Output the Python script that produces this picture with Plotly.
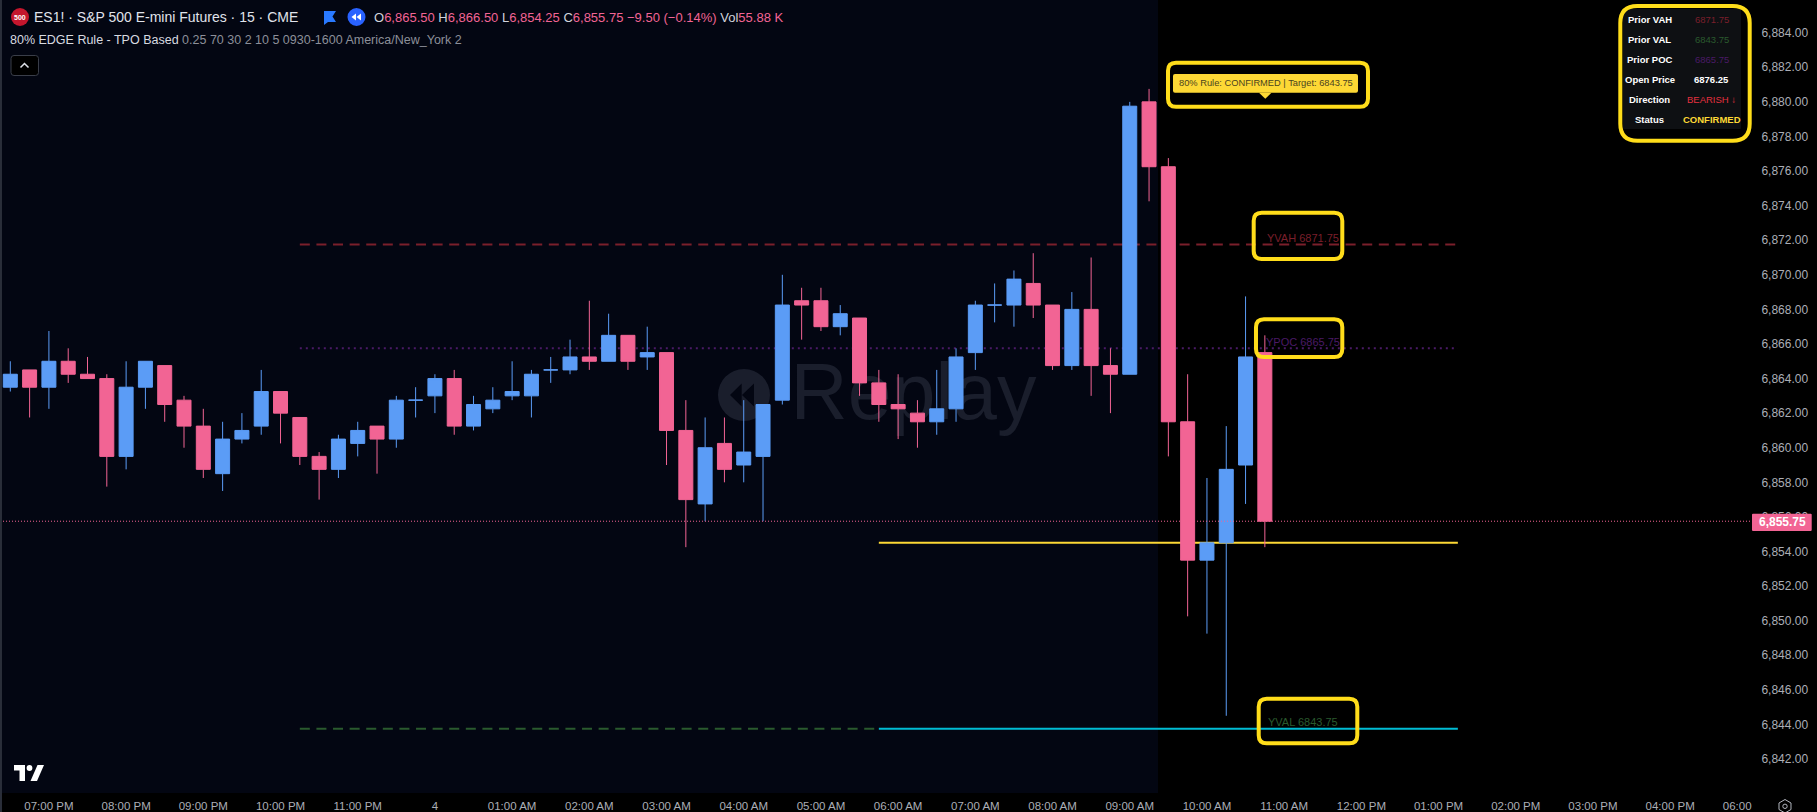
import plotly.graph_objects as go

# ---------- data ----------
bar_index = list(range(66))
opens = [6863.5,6864.5,6863.5,6865,6864.25,6864,6859.5,6863.5,6864.75,6862.75,6861.25,6858.5,6860.5,6861.25,6863.25,6861.75,6859.5,6858.75,6860.25,6861.25,6860.5,6862.75,6863,6864,6861.25,6862.25,6863,6863,6864.5,6864.5,6865.25,6865,6866.5,6865.25,6865.5,6861,6856.75,6860.25,6859,6859.5,6862.75,6868.5,6868.5,6867,6867.5,6863.75,6862.5,6862,6861.5,6862.25,6865.5,6868.25,6868.25,6869.5,6868.25,6864.75,6868,6864.75,6864.25,6880,6876.25,6861.5,6853.5,6854.5,6859,6865.5]
highs = [6865,6864.5,6866.75,6865.75,6865.25,6864.25,6865,6865,6864.75,6863,6862.25,6861.5,6862,6864.5,6863.25,6861.75,6859.75,6860.75,6861.5,6861.25,6863,6863.5,6864.25,6864.5,6863,6863.5,6865,6864.5,6865.25,6866.25,6868.5,6867.75,6866.5,6867,6865.5,6862.75,6861.75,6861.75,6862.75,6862.5,6870,6869.25,6869.25,6868.25,6867.5,6864.5,6864.25,6862.75,6864.5,6865.75,6868.5,6869.5,6870.25,6871.25,6868.25,6869,6871,6865.75,6880,6880.75,6876.75,6864.25,6858.25,6861.25,6868.75,6866.5]
lows = [6863.25,6861.75,6862.25,6863.75,6864,6857.75,6858.75,6862.25,6861.5,6860,6858.25,6857.5,6860.25,6860.75,6860.25,6859,6857,6858.25,6859.5,6858.5,6860,6861.75,6862,6860.75,6861,6862,6862.75,6861.75,6863.75,6864.25,6864.5,6865,6864.5,6864.5,6859,6854.25,6855.75,6858,6858,6855.75,6862.5,6866.25,6866.75,6866.5,6863,6861.5,6860.5,6860,6860.75,6861.5,6864.5,6867.25,6867,6867.5,6864.5,6864.5,6863,6862,6864.25,6874.25,6859.5,6850.25,6849.25,6844.5,6856.75,6854.25]
closes = [6864.25,6863.5,6865,6864.25,6864,6859.5,6863.5,6865,6862.5,6861.25,6858.75,6860.5,6861,6863.25,6862,6859.5,6858.75,6860.5,6861,6860.5,6862.75,6862.75,6864,6861.25,6862.5,6862.75,6863.25,6864.25,6864.5,6865.25,6865,6866.5,6865,6865.5,6861,6857,6860,6858.75,6859.75,6862.5,6868.25,6868.25,6867,6867.75,6863.75,6862.5,6862.25,6861.5,6862.25,6865.25,6868.25,6868.25,6869.75,6868.25,6864.75,6868,6864.75,6864.25,6879.75,6876.25,6861.5,6853.5,6854.5,6858.75,6865.25,6855.75]

tick_index = [2,6,10,14,18,22,26,30,34,38,42,46,50,54,58,62,66,70,74,78,82,86,90]
tick_labels = ["07:00 PM","08:00 PM","09:00 PM","10:00 PM","11:00 PM","4","01:00 AM","02:00 AM","03:00 AM","04:00 AM","05:00 AM","06:00 AM","07:00 AM","08:00 AM","09:00 AM","10:00 AM","11:00 AM","12:00 PM","01:00 PM","02:00 PM","03:00 PM","04:00 PM","06:00 PM"]

yvah, ypoc, yval = 6871.75, 6865.75, 6843.75
entry_level, last_price = 6854.5, 6855.75
prior_start, today_start, level_end = 15, 45, 75

panel_labels = ["Prior VAH","Prior VAL","Prior POC","Open Price","Direction","Status"]
panel_values = ["6871.75","6843.75","6865.75","6876.25","BEARISH ↓","CONFIRMED"]

# ---------- geometry / style ----------
W, H = 1817, 812
PL, PR, PB = 0, 1752, 793
X_RANGE = [-0.534, 90.24]
Y_RANGE = [6840.034, 6885.891]
FONT = "Liberation Sans"
BLUE, PINK = "#5B9CF6", "#F26494"
YEL = "#FFDD1A"
RED_D, GRN_D, PUR_D = "#7A1F2B", "#2A5A2E", "#4A1A66"
PANE = "#030612"
WM = "#1A1E2C"

def px(x): return round((x - PL) / (PR - PL), 5)
def py(y): return round(1 - y / PB, 5)

def rrect(x0, y0, x1, y1, r):
    p = [("M", x0 + r, y0), ("L", x1 - r, y0), ("Q", x1, y0, x1, y0 + r), ("L", x1, y1 - r),
         ("Q", x1, y1, x1 - r, y1), ("L", x0 + r, y1), ("Q", x0, y1, x0, y1 - r), ("L", x0, y0 + r),
         ("Q", x0, y0, x0 + r, y0)]
    out = ""
    for s in p:
        if s[0] == "Q":
            out += f"Q{px(s[1])} {py(s[2])} {px(s[3])} {py(s[4])} "
        else:
            out += f"{s[0]}{px(s[1])} {py(s[2])} "
    return out + "Z"

def poly(points):
    return "M" + " L".join(f"{px(a)} {py(b)}" for a, b in points) + " Z"

def path_shape(d, fill=None, line=None, lw=0, layer="above"):
    return dict(type="path", path=d, xref="paper", yref="paper", fillcolor=fill or "rgba(0,0,0,0)",
                line=dict(color=line or "rgba(0,0,0,0)", width=lw), layer=layer)

def rect_shape(x0, y0, x1, y1, fill, layer="above"):
    return dict(type="rect", xref="paper", yref="paper", x0=px(x0), x1=px(x1), y0=py(y0), y1=py(y1),
                fillcolor=fill, line=dict(width=0), layer=layer)

def circle_shape(cx, cy, r, fill=None, line=None, lw=0, layer="above"):
    return dict(type="circle", xref="paper", yref="paper", x0=px(cx - r), x1=px(cx + r), y0=py(cy - r), y1=py(cy + r),
                fillcolor=fill or "rgba(0,0,0,0)", line=dict(color=line or "rgba(0,0,0,0)", width=lw), layer=layer)

def note(x, y, text, size=12, color="#d1d4dc", anchor="left", bold=False):
    t = f"<b>{text}</b>" if bold else text
    return dict(x=px(x), y=py(y), xref="paper", yref="paper", text=t, showarrow=False, xanchor=anchor,
                yanchor="middle", font=dict(family=FONT, size=size, color=color), borderpad=0)

fig = go.Figure()

def level(x0, x1, y, color, width, dash):
    fig.add_trace(go.Scatter(x=[x0, x1], y=[y, y], mode="lines", hoverinfo="skip",
                             line=dict(color=color, width=width, dash=dash)))

# watermark word under candles
fig.add_trace(go.Scatter(x=[46.8], y=[6862.8], mode="text", text=["Replay"], hoverinfo="skip",
                         textposition="middle center", textfont=dict(family=FONT, size=79, color=WM)))

level(prior_start, level_end, yvah, RED_D, 2, "10px,6.6px")
level(prior_start, level_end, ypoc, PUR_D, 2, "2px,4px")
level(prior_start, today_start, yval, GRN_D, 2, "10px,6.6px")
level(today_start, level_end, yval, "#00BCD4", 2, "solid")
level(today_start, level_end, entry_level, "#FDD835", 2, "solid")

# candles on an overlaying subplot so they sit above the levels
fig.add_trace(go.Candlestick(x=bar_index, open=opens, high=highs, low=lows, close=closes,
                             xaxis="x2", yaxis="y2", whiskerwidth=0, hoverinfo="skip",
                             increasing=dict(line=dict(color=BLUE, width=1), fillcolor=BLUE),
                             decreasing=dict(line=dict(color=PINK, width=1), fillcolor=PINK)))
fig.add_trace(go.Scatter(x=[X_RANGE[0], X_RANGE[1]], y=[last_price, last_price], mode="lines", xaxis="x2", yaxis="y2",
                         hoverinfo="skip", line=dict(color=PINK, width=1, dash="1px,2px")))

shapes = [
    rect_shape(0, 0, 1158, PB, PANE, layer="below"),
    circle_shape(744, 395, 26, fill=WM, layer="below"),
    path_shape(poly([(730, 395), (741.7, 383.5), (741.7, 406.5)]), fill=PANE, layer="below"),
    path_shape(poly([(742, 395), (754, 383.5), (754, 406.5)]), fill=PANE, layer="below"),
    rect_shape(0, 0, 2, PB + 19, "#2A2E39"),
    rect_shape(1752, 793, W, H, "#000000"),
    path_shape(rrect(1168, 62.7, 1368, 106.7, 8), line=YEL, lw=4),
    path_shape(rrect(1253.7, 212.7, 1342.3, 259, 8), line=YEL, lw=4),
    path_shape(rrect(1256, 319.3, 1342.3, 357, 8), line=YEL, lw=4),
    path_shape(rrect(1258.7, 698.7, 1357.3, 743.3, 8), line=YEL, lw=4),
    path_shape(rrect(1623, 9, 1741, 129, 1), fill="#0E1013"),
    path_shape(rrect(1620.3, 6, 1749.7, 140.7, 17), line=YEL, lw=4),
    path_shape(rrect(1173, 74, 1358, 92.7, 2), fill="#FDD835"),
    path_shape(poly([(1259, 92.7), (1271.5, 92.7), (1265.3, 98.7)]), fill="#FDD835"),
    path_shape(rrect(1752, 513.7, 1811.7, 531, 1), fill=PINK),
    circle_shape(20, 17, 9, fill="#C4162D"),
    path_shape(poly([(324, 11), (336, 11), (332.5, 16.5), (336, 22), (328, 22), (324, 25)]), fill="#2979FF"),
    circle_shape(356.5, 17, 9, fill="#2962FF"),
    path_shape(poly([(351.5, 17), (356, 13.5), (356, 20.5)]), fill="#FFFFFF"),
    path_shape(poly([(356.5, 17), (361, 13.5), (361, 20.5)]), fill="#FFFFFF"),
    path_shape(rrect(11, 55.5, 38.5, 75.5, 3), fill="#000000", line="#3A3E49", lw=1),
    path_shape(f"M{px(20.5)} {py(67.5)} L{px(24.5)} {py(63.5)} L{px(28.5)} {py(67.5)}", line="#E0E3EB", lw=1.5),
    path_shape(poly([(14, 765), (25, 765), (25, 781), (19.5, 781), (19.5, 770.5), (14, 770.5)]), fill="#FFFFFF"),
    circle_shape(29.5, 768, 2.9, fill="#FFFFFF"),
    path_shape(poly([(37.5, 765), (44, 765), (37, 781), (30.5, 781)]), fill="#FFFFFF"),
    path_shape(poly([(1785, 799.5), (1791, 803), (1791, 809.5), (1785, 813), (1779, 809.5), (1779, 803)]), line="#B2B5BE", lw=1),
    circle_shape(1785, 806.3, 2.2, line="#B2B5BE", lw=1),
]

ohlc_pink = "#F26494"
ohlc = ("<span style='color:#d1d4dc'>O</span>6,865.50 <span style='color:#d1d4dc'>H</span>6,866.50 "
        "<span style='color:#d1d4dc'>L</span>6,854.25 <span style='color:#d1d4dc'>C</span>6,855.75 "
        "−9.50 (−0.14%) <span style='color:#d1d4dc'>Vol</span>55.88 K")
annotations = [
    note(33, 17, "ES1! · S&P 500 E-mini Futures · 15 · CME", size=14, color="#E0E3EB"),
    note(20, 17, "500", size=7, color="#FFFFFF", anchor="center", bold=True),
    note(373.5, 17, ohlc, size=13, color=ohlc_pink),
    note(9.5, 40.2, "80% EDGE Rule - TPO Based <span style='color:#8C8F99'>0.25 70 30 2 10 5 0930-1600 America/New_York 2</span>",
         size=12.5, color="#D8DAE0"),
    note(1265.5, 83.4, "80% Rule: CONFIRMED | Target: 6843.75", size=9.3, color="#4A4320", anchor="center"),
    note(1303, 237.7, "YVAH 6871.75", size=11, color=RED_D, anchor="center"),
    note(1303, 341.7, "YPOC 6865.75", size=11, color=PUR_D, anchor="center"),
    note(1303.3, 721.7, "YVAL 6843.75", size=11, color=GRN_D, anchor="center"),
    note(1783, 522.3, "6,855.75", size=12, color="#FFFFFF", anchor="center", bold=True),
]
row_y = [19.7, 39.3, 59.3, 79.7, 99.7, 119.3]
value_colors = [RED_D, GRN_D, PUR_D, "#FFFFFF", "#E5303F", "#FDD835"]
for yy, lab, val, col in zip(row_y, panel_labels, panel_values, value_colors):
    annotations.append(note(1650, yy, lab, size=9.5, color="#FFFFFF", anchor="center", bold=True))
    annotations.append(note(1711.7, yy, val, size=9.5, color=col, anchor="center", bold=val in ("6876.25", "CONFIRMED")))

fig.update_layout(
    width=W, height=H, autosize=False, showlegend=False,
    paper_bgcolor="#000000", plot_bgcolor="rgba(0,0,0,0)",
    margin=dict(l=PL, r=W - PR, t=0, b=H - PB, pad=0),
    font=dict(family=FONT, size=12, color="#ABAEB6"),
    boxgap=0.275, boxgroupgap=0,
    shapes=shapes, annotations=annotations, hovermode=False,
    xaxis=dict(range=X_RANGE, tickmode="array", tickvals=tick_index, ticktext=tick_labels, automargin=False,
               showgrid=False, zeroline=False, showline=False, ticks="outside", ticklen=2,
               tickcolor="rgba(0,0,0,0)", tickfont=dict(family=FONT, size=11.5, color="#ABAEB6"),
               tickangle=0, fixedrange=True),
    yaxis=dict(range=Y_RANGE, side="right", tick0=6842, dtick=2, tickformat=",.2f", automargin=False,
               showgrid=False, zeroline=False, showline=False, ticks="outside", ticklen=6,
               tickcolor="rgba(0,0,0,0)", tickfont=dict(family=FONT, size=12, color="#ABAEB6"), fixedrange=True),
    xaxis2=dict(range=X_RANGE, overlaying="x", anchor="y2", visible=False, rangeslider=dict(visible=False), fixedrange=True),
    yaxis2=dict(range=Y_RANGE, overlaying="y", anchor="x2", side="right", visible=False, fixedrange=True),
)

fig.write_html("out.html", config=dict(displayModeBar=False, responsive=False),
               post_script="document.body.style.margin='0';document.body.style.overflow='hidden';")
